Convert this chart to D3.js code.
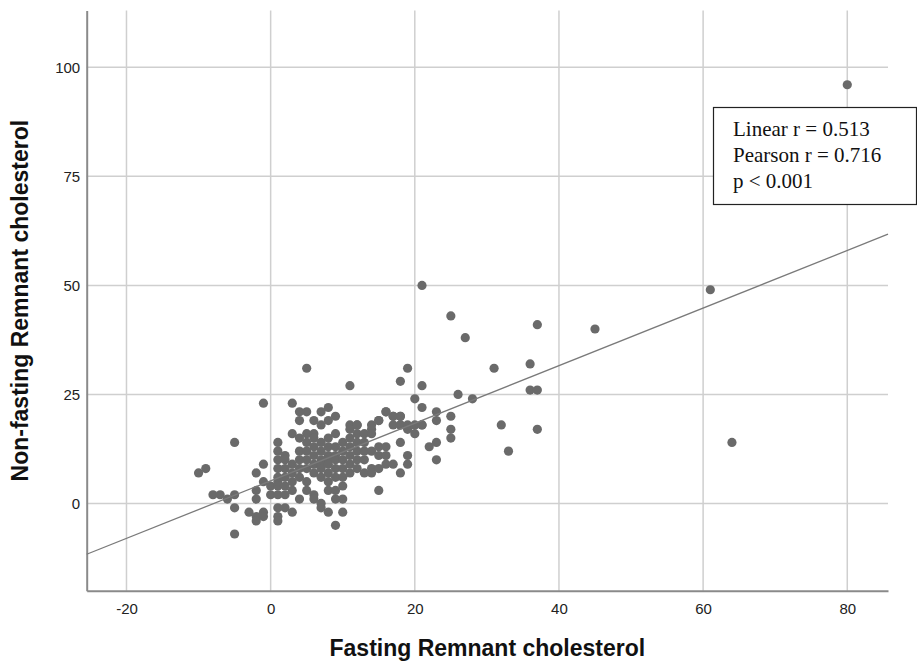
<!DOCTYPE html>
<html>
<head>
<meta charset="utf-8">
<script src="https://cdn.jsdelivr.net/npm/d3@7"></script>
<style>
  html, body { margin: 0; padding: 0; background: #fff; }
  svg { display: block; }
</style>
</head>
<body>
<svg id="chart" width="917" height="662"></svg>
<script>
// Fasting vs non-fasting remnant cholesterol, one point per subject
const fastingRC = [
  80, 61, 64, 45, 21, 25, 37, 27, 31, 36, 5, 19, 18, 11, 21, 26, 28, 36, 37, 20,
  -1, 3, 21, 23, 25, 23, 21, 25, 25, 32, 37, 23, 22, 33, 23, 15, -5, -10, -9, -8,
  -7, -6, -5, -5, -5,
  4, 5, 8, 7, 9, 6, 11, 12, 15, 16, 17, 18, 18, 14, 4,
  -2, -1, -1, -2, -2, -3, -2, -2, -1, -1,
  0, 0, 1, 1, 1,
  1, 1, 1, 1, 1, 1, 1, 1,
  2, 2, 2, 2, 2, 2, 2,
  3, 3, 3, 3, 3, 3,
  4, 4, 4, 4, 4, 4,
  5, 5, 5, 5, 5, 5, 5,
  6, 6, 6, 6, 6, 6, 6, 6,
  7, 7, 7, 7, 7, 7, 7, 7, 7,
  8, 8, 8, 8, 8, 8, 8, 8, 8, 8,
  9, 9, 9, 9, 9, 9, 9, 9, 9,
  10, 10, 10, 10, 10, 10, 10, 10,
  11, 11, 11, 11, 11, 11,
  12, 12, 12, 12, 12, 12,
  13, 13, 13, 13, 13,
  14, 14, 14, 14, 14,
  15, 15, 15, 15,
  16, 16, 16, 16,
  17, 17, 17,
  18, 18, 18, 18,
  19, 19, 19, 19,
  20, 20,
  21
];
const nonFastingRC = [
  96, 49, 14, 40, 50, 43, 41, 38, 31, 32, 31, 31, 28, 27, 27, 25, 24, 26, 26, 24,
  23, 23, 22, 21, 20, 19, 18, 17, 15, 18, 17, 14, 13, 12, 10, 3, 14, 7, 8, 2,
  2, 1, 2, -1, -7,
  21, 21, 22, 21, 20, 19, 18, 18, 19, 21, 20, 20, 18, 17, 19,
  7, 9, 5, 3, 1, -2, -3, -4, -2, -3,
  4, 2, 2, 4, 5,
  14, 12, 10, 8, 6, -1, -3, -4,
  11, 10, 8, 6, 4, 2, -1,
  16, 9, 7, 5, 3, -2,
  15, 12, 10, 8, 6, 1,
  16, 14, 12, 10, 8, 5, 3,
  16, 15, 13, 11, 9, 7, 2, 1,
  18, 14, 12, 10, 9, 8, 6, 0, -1,
  19, 15, 13, 11, 10, 9, 7, 5, -2, 3,
  16, 13, 11, 10, 8, 6, 3, -5, 1,
  14, 12, 10, 8, 6, 4, 1, -2,
  17, 15, 13, 11, 9, 7,
  18, 16, 14, 12, 10, 8,
  16, 14, 12, 10, 7,
  18, 16, 12, 8, 7,
  19, 13, 11, 8,
  21, 13, 11, 9,
  20, 9, 18,
  20, 18, 14, 7,
  17, 11, 9, 18,
  18, 16,
  18
];

// Linear fit line (intercept, slope)
const fitIntercept = 5.2;
const fitSlope = 0.66;

const xTicks = [-20, 0, 20, 40, 60, 80];
const yTicks = [0, 25, 50, 75, 100];
const statLines = ["Linear r = 0.513", "Pearson r = 0.716", "p < 0.001"];

const xTitle = "Fasting Remnant cholesterol";
const yTitle = "Non-fasting Remnant cholesterol";

const svg = d3.select("#chart");
const plot = { left: 86.7, right: 888, top: 10.6, bottom: 590.7 };
const sans = "Liberation Sans, Arial, sans-serif";

const x = d3.scaleLinear().domain([-25.52, 85.65]).range([plot.left, plot.right]);
const y = d3.scaleLinear().domain([-20, 113]).range([plot.bottom, plot.top]);

// grid lines
const grid = svg.append("g").attr("stroke", "#cfcfcf").attr("stroke-width", 1.5);
grid.selectAll("line.vx").data(xTicks).join("line")
  .attr("x1", d => x(d)).attr("x2", d => x(d))
  .attr("y1", plot.top).attr("y2", plot.bottom);
grid.selectAll("line.hy").data(yTicks).join("line")
  .attr("x1", plot.left).attr("x2", plot.right)
  .attr("y1", d => y(d)).attr("y2", d => y(d));

// axes (plain hyphen for negative numbers)
const fmt = d => String(d);
const xAxis = d3.axisBottom(x).tickValues(xTicks).tickSize(0).tickPadding(12.6).tickFormat(fmt);
const yAxis = d3.axisLeft(y).tickValues(yTicks).tickSize(0).tickPadding(6.5).tickFormat(fmt);

const gx = svg.append("g").attr("transform", `translate(0,${plot.bottom})`).call(xAxis);
const gy = svg.append("g").attr("transform", `translate(${plot.left},0)`).call(yAxis);
[gx, gy].forEach(g => {
  g.select(".domain").attr("stroke", "#8a8a8a").attr("stroke-width", 2);
  g.selectAll("text").attr("font-family", sans)
    .attr("font-size", 15).attr("fill", "#222");
});

// points
const pts = fastingRC.map((v, i) => ({ fx: v, nf: nonFastingRC[i] }));
svg.append("g").selectAll("circle").data(pts).join("circle")
  .attr("cx", d => x(d.fx)).attr("cy", d => y(d.nf))
  .attr("r", 4.6).attr("fill", "#6a6a6a");

// regression line across the full x domain
const [x0, x1] = x.domain();
svg.append("line")
  .attr("x1", x(x0)).attr("y1", y(fitIntercept + fitSlope * x0))
  .attr("x2", x(x1)).attr("y2", y(fitIntercept + fitSlope * x1))
  .attr("stroke", "#7a7a7a").attr("stroke-width", 1.3);

// statistics box
const box = svg.append("g");
box.append("rect").attr("x", 713.5).attr("y", 107.5).attr("width", 203).attr("height", 97)
  .attr("fill", "#fff").attr("stroke", "#222").attr("stroke-width", 1.2);
box.selectAll("text").data(statLines).join("text")
  .attr("x", 733).attr("y", (d, i) => 136 + i * 26)
  .attr("font-family", "Liberation Serif, Times New Roman, serif")
  .attr("font-size", 21).attr("fill", "#111")
  .text(d => d);

// axis titles
svg.append("text").attr("x", (plot.left + plot.right) / 2).attr("y", 656)
  .attr("text-anchor", "middle")
  .attr("font-family", sans)
  .attr("font-weight", "bold").attr("font-size", 23).attr("fill", "#111")
  .text(xTitle);
svg.append("text")
  .attr("transform", `translate(28,${(plot.top + plot.bottom) / 2}) rotate(-90)`)
  .attr("text-anchor", "middle")
  .attr("font-family", sans)
  .attr("font-weight", "bold").attr("font-size", 23).attr("fill", "#111")
  .text(yTitle);
</script>
</body>
</html>
